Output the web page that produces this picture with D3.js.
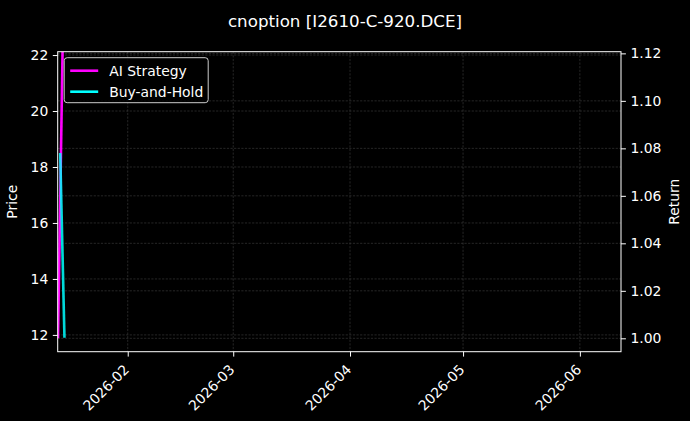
<!DOCTYPE html>
<html>
<head>
<meta charset="utf-8">
<script src="https://cdn.jsdelivr.net/npm/d3@7"></script>
<style>
  body { margin: 0; background: #000; }
  text { font-family: "DejaVu Sans", sans-serif; }
</style>
</head>
<body>
<div id="chart-area"></div>
<script>
// series
const aiDates = ["2026-01-13T12:00", "2026-01-14T18:00"];
const aiReturn = [1.0, 1.125];
const bhDates = ["2026-01-14T02:00", "2026-01-15T05:00"];
const bhPrice = [18.5, 11.9];

const priceTicks = [12, 14, 16, 18, 20, 22];
const returnTicks = [1.00, 1.02, 1.04, 1.06, 1.08, 1.10, 1.12];
const monthTicks = ["2026-02-01", "2026-03-01", "2026-04-01", "2026-05-01", "2026-06-01"];

const width = 690;
const height = 421;
const margin = {left: 57.7, right: 69, top: 51.7, bottom: 69.3};
const w = width - margin.left - margin.right;
const h = height - margin.top - margin.bottom;

const parse = d3.isoParse;

const svg = d3.select("#chart-area")
    .append("svg")
    .attr("width", width)
    .attr("height", height);

svg.append("rect")
    .attr("width", "100%")
    .attr("height", "100%")
    .attr("fill", "black");

svg.append("text")
    .attr("x", width / 2)
    .attr("y", 27)
    .attr("text-anchor", "middle")
    .attr("font-size", "16.7px")
    .attr("fill", "white")
    .text("cnoption [I2610-C-920.DCE]");

const g = svg.append("g")
    .attr("transform", "translate(" + margin.left + "," + margin.top + ")");

const x = d3.scaleTime()
    .domain([parse("2026-01-13T10:00"), parse("2026-06-11T22:00")])
    .range([0, w]);

const yPrice = d3.scaleLinear()
    .domain([11.40, 22.12])
    .range([h, 0]);

const yRet = d3.scaleLinear()
    .domain([0.99436, 1.1207])
    .range([h, 0]);

g.append("clipPath").attr("id", "plot-clip")
    .append("rect").attr("width", w).attr("height", h);

// grid
const grid = g.append("g").attr("stroke", "#808080").attr("stroke-width", 0.6)
    .attr("stroke-dasharray", "2.2,1.4").attr("opacity", 0.5);

grid.selectAll(".gx").data(monthTicks).enter().append("line")
    .attr("x1", d => x(parse(d))).attr("x2", d => x(parse(d)))
    .attr("y1", 0).attr("y2", h);

grid.selectAll(".gp").data(priceTicks).enter().append("line")
    .attr("x1", 0).attr("x2", w)
    .attr("y1", d => yPrice(d)).attr("y2", d => yPrice(d));

grid.selectAll(".gr").data(returnTicks).enter().append("line")
    .attr("x1", 0).attr("x2", w)
    .attr("y1", d => yRet(d)).attr("y2", d => yRet(d));

// lines
const plot = g.append("g").attr("clip-path", "url(#plot-clip)");

const aiLine = d3.line()
    .x((d, i) => x(parse(aiDates[i])))
    .y(d => yRet(d));

const bhLine = d3.line()
    .x((d, i) => x(parse(bhDates[i])))
    .y(d => yPrice(d));

plot.append("path")
    .datum(aiReturn)
    .attr("d", aiLine)
    .attr("fill", "none")
    .attr("stroke", "#ff00ff")
    .attr("stroke-width", 2.6);

plot.append("path")
    .datum(bhPrice)
    .attr("d", bhLine)
    .attr("fill", "none")
    .attr("stroke", "#00ffff")
    .attr("stroke-width", 2.6)
    .attr("opacity", 0.85);

// axes
const bottomAxis = d3.axisBottom(x)
    .tickValues(monthTicks.map(parse))
    .tickFormat(d3.timeFormat("%Y-%m"))
    .tickSize(4.9)
    .tickPadding(3);

const xg = g.append("g")
    .attr("class", "axis")
    .attr("transform", "translate(0," + h + ")")
    .call(bottomAxis);

xg.selectAll("text")
    .attr("text-anchor", "end")
    .attr("dy", null)
    .attr("y", null)
    .attr("transform", "translate(-1,16) rotate(-45)")
    .attr("dominant-baseline", "middle");

const leftAxis = d3.axisLeft(yPrice)
    .tickValues(priceTicks)
    .tickFormat(d3.format("d"))
    .tickSize(4.9)
    .tickPadding(4.5);

g.append("g")
    .attr("class", "axis")
    .call(leftAxis);

const rightAxis = d3.axisRight(yRet)
    .tickValues(returnTicks)
    .tickFormat(d3.format(".2f"))
    .tickSize(4.9)
    .tickPadding(4.5);

g.append("g")
    .attr("class", "axis")
    .attr("transform", "translate(" + w + ",0)")
    .call(rightAxis);

g.selectAll(".axis .domain").remove();
g.selectAll(".axis line").attr("stroke", "white").attr("stroke-width", 1);
g.selectAll(".axis text").attr("fill", "white").attr("font-size", "13.9px")
    .attr("font-family", "DejaVu Sans, sans-serif");

// frame
g.append("rect")
    .attr("width", w).attr("height", h)
    .attr("fill", "none").attr("stroke", "white").attr("stroke-width", 1);

// axis labels
g.append("text")
    .attr("transform", "rotate(-90)")
    .attr("x", -h / 2).attr("y", -41)
    .attr("text-anchor", "middle")
    .attr("font-size", "13.9px")
    .attr("fill", "white")
    .text("Price");

g.append("text")
    .attr("transform", "rotate(-90)")
    .attr("x", -h / 2).attr("y", w + 58)
    .attr("text-anchor", "middle")
    .attr("font-size", "13.9px")
    .attr("fill", "white")
    .text("Return");

// legend
const legendItems = [
    {label: "AI Strategy", color: "#ff00ff"},
    {label: "Buy-and-Hold", color: "#00ffff"}
];

const legend = g.append("g").attr("transform", "translate(6.5,6)");

legend.append("rect")
    .attr("width", 144).attr("height", 45)
    .attr("rx", 3)
    .attr("fill", "black").attr("fill-opacity", 0.8)
    .attr("stroke", "#cccccc").attr("stroke-width", 1);

const li = legend.selectAll(".li").data(legendItems).enter().append("g")
    .attr("transform", (d, i) => "translate(0," + (13 + i * 21) + ")");

li.append("line")
    .attr("x1", 6).attr("x2", 34)
    .attr("stroke", d => d.color).attr("stroke-width", 2.6);

li.append("text")
    .attr("x", 45).attr("dy", "0.35em")
    .attr("font-size", "13.9px")
    .attr("fill", "white")
    .text(d => d.label);
</script>
</body>
</html>
